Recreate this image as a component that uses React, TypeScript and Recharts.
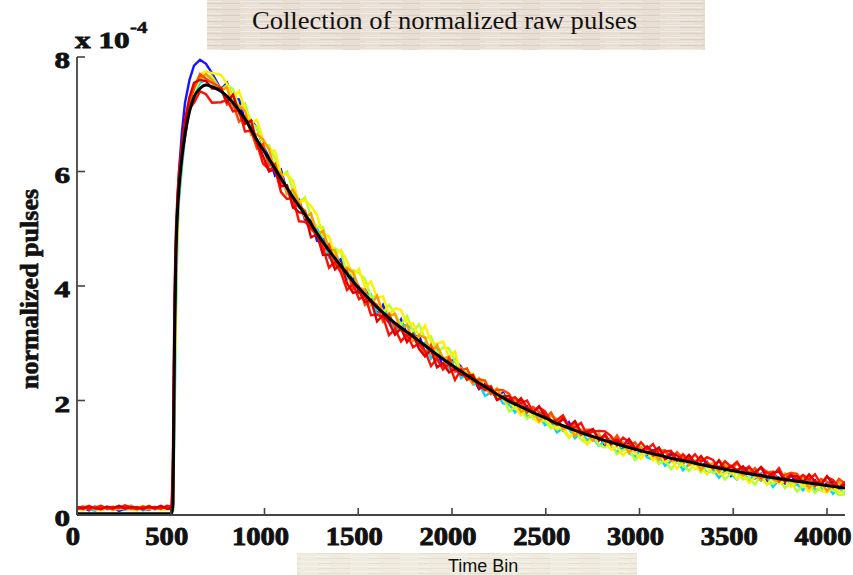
import { LineChart, Line, XAxis, YAxis } from "recharts";

// values in units of 1e-4 (axis reads "x 10^-4")
const traceBins = [
  0, 32, 64, 96, 128, 160, 192, 224, 256, 288, 320, 352, 384, 416, 448, 480, 496, 505,
  512, 520, 528, 536, 544, 560, 576, 600, 624, 656, 688, 720,
  768, 800, 832, 864, 896, 928, 960, 992,
  1024, 1056, 1088, 1120, 1152, 1184, 1216, 1248,
  1280, 1312, 1344, 1376, 1408, 1440, 1472, 1504,
  1536, 1568, 1600, 1632, 1664, 1696, 1728, 1760,
  1792, 1824, 1856, 1888, 1920, 1952, 1984, 2016,
  2048, 2080, 2112, 2144, 2176, 2208, 2240, 2272,
  2304, 2336, 2368, 2400, 2432, 2464, 2496, 2528,
  2560, 2592, 2624, 2656, 2688, 2720, 2752, 2784,
  2816, 2848, 2880, 2912, 2944, 2976, 3008, 3040,
  3072, 3104, 3136, 3168, 3200, 3232, 3264, 3296,
  3328, 3360, 3392, 3424, 3456, 3488, 3520, 3552,
  3584, 3616, 3648, 3680, 3712, 3744, 3776, 3808,
  3840, 3872, 3904, 3936, 3968, 4000, 4032, 4064,
  4096,
];

const bluePulse = [
  0.1, 0.13, 0.08, 0.15, 0.09, 0.12, 0.14, 0.07, 0.11, 0.16, 0.1, 0.12, 0.09, 0.14, 0.11, 0.13, 0.12, 0.11,
  0.4, 2.6, 4.4, 5.5, 6.0, 6.7, 7.2, 7.6, 7.85, 7.95, 7.88, 7.72,
  7.43, 7.55, 7.27, 7.26, 6.89, 6.9, 6.76, 6.45,
  6.25, 5.93, 6.03, 5.65, 5.54, 5.51, 5.16, 5.16,
  4.79, 4.82, 4.71, 4.38, 4.47, 4.18, 4.14, 3.89,
  3.94, 3.76, 3.51, 3.67, 3.4, 3.26, 3.42, 3.16,
  3.08, 3.15, 2.83, 2.91, 2.89, 2.57, 2.7, 2.7,
  2.59, 2.38, 2.4, 2.2, 2.29, 2.18, 2.04, 2.14,
  1.94, 2.03, 1.87, 1.9, 1.7, 1.78, 1.77, 1.62,
  1.62, 1.48, 1.62, 1.44, 1.43, 1.47, 1.31, 1.38,
  1.21, 1.3, 1.3, 1.14, 1.26, 1.13, 1.16, 1.05,
  1.13, 1.05, 0.94, 1.08, 0.94, 0.89, 1.03, 0.88,
  0.85, 0.93, 0.75, 0.84, 0.86, 0.68, 0.79, 0.82,
  0.8, 0.64, 0.72, 0.57, 0.7, 0.65, 0.55, 0.7,
  0.54, 0.67, 0.54, 0.61, 0.44, 0.56, 0.57, 0.46,
  0.5,
];

const cyanPulse = [
  0.09, 0.13, 0.11, 0.07, 0.15, 0.1, 0.12, 0.16, 0.09, 0.11, 0.14, 0.08, 0.12, 0.1, 0.15, 0.11, 0.11, 0.1,
  0.1, 1.6, 3.6, 4.9, 5.5, 6.1, 6.6, 7.1, 7.35, 7.55, 7.6, 7.55,
  7.43, 7.19, 7.35, 7.01, 6.91, 6.85, 6.46, 6.47,
  6.09, 6.1, 5.97, 5.61, 5.67, 5.37, 5.31, 5.01,
  5.01, 4.79, 4.5, 4.62, 4.31, 4.12, 4.23, 3.93,
  3.81, 3.85, 3.5, 3.56, 3.53, 3.2, 3.32, 3.31,
  3.24, 2.95, 3.01, 2.73, 2.88, 2.74, 2.55, 2.72,
  2.39, 2.46, 2.28, 2.29, 2.08, 2.14, 2.11, 1.95,
  1.94, 1.79, 1.92, 1.73, 1.71, 1.74, 1.57, 1.63,
  1.44, 1.52, 1.51, 1.34, 1.45, 1.31, 1.34, 1.21,
  1.29, 1.21, 1.09, 1.23, 1.08, 1.02, 1.15, 1.01,
  0.97, 1.04, 0.86, 0.94, 0.96, 0.78, 0.89, 0.91,
  0.89, 0.73, 0.8, 0.65, 0.78, 0.72, 0.62, 0.76,
  0.6, 0.72, 0.6, 0.66, 0.49, 0.61, 0.62, 0.51,
  0.54, 0.43, 0.59, 0.44, 0.45, 0.52, 0.37, 0.47,
  0.38,
];

const limePulse = [
  0.12, 0.08, 0.13, 0.1, 0.11, 0.14, 0.09, 0.12, 0.15, 0.1, 0.08, 0.13, 0.11, 0.14, 0.09, 0.12, 0.1, 0.12,
  0.1, 2.0, 3.9, 5.0, 5.6, 6.2, 6.7, 7.15, 7.4, 7.6, 7.68, 7.66,
  7.42, 7.51, 7.44, 7.12, 7.19, 6.86, 6.76, 6.47,
  6.46, 6.22, 5.91, 6.0, 5.66, 5.46, 5.55, 5.2,
  5.03, 5.03, 4.64, 4.66, 4.59, 4.21, 4.28, 4.23,
  4.12, 3.8, 3.83, 3.53, 3.67, 3.52, 3.32, 3.48,
  3.2, 3.33, 3.08, 3.12, 2.82, 2.93, 2.91, 2.69,
  2.53, 2.36, 2.47, 2.26, 2.23, 2.24, 2.05, 2.1,
  1.81, 1.88, 1.86, 1.68, 1.78, 1.63, 1.65, 1.51,
  1.57, 1.48, 1.35, 1.48, 1.32, 1.25, 1.38, 1.22,
  1.18, 1.25, 1.06, 1.14, 1.15, 0.96, 1.06, 1.09,
  1.06, 0.89, 0.96, 0.8, 0.93, 0.87, 0.77, 0.9,
  0.74, 0.86, 0.73, 0.79, 0.62, 0.73, 0.74, 0.62,
  0.65, 0.53, 0.7, 0.54, 0.55, 0.62, 0.47, 0.57,
  0.41, 0.52, 0.53, 0.39, 0.52, 0.41, 0.45, 0.35,
  0.36,
];

const yellowPulse = [
  0.11, 0.14, 0.1, 0.12, 0.08, 0.12, 0.15, 0.1, 0.13, 0.09, 0.12, 0.16, 0.1, 0.13, 0.11, 0.09, 0.12, 0.13,
  0.1, 2.2, 4.0, 5.1, 5.7, 6.3, 6.8, 7.25, 7.5, 7.7, 7.75, 7.72,
  7.69, 7.53, 7.28, 7.41, 7.08, 6.85, 6.9, 6.56,
  6.38, 6.36, 5.95, 5.94, 5.84, 5.45, 5.5, 5.4,
  5.24, 4.88, 4.87, 4.53, 4.63, 4.43, 4.18, 4.3,
  3.98, 4.08, 3.8, 3.82, 3.51, 3.61, 3.58, 3.35,
  3.35, 3.12, 3.31, 3.02, 2.99, 3.03, 2.76, 2.86,
  2.45, 2.5, 2.46, 2.26, 2.35, 2.18, 2.18, 2.03,
  1.98, 1.88, 1.74, 1.86, 1.69, 1.61, 1.73, 1.56,
  1.5, 1.56, 1.36, 1.43, 1.43, 1.23, 1.33, 1.34,
  1.31, 1.14, 1.2, 1.04, 1.16, 1.09, 0.98, 1.12,
  0.95, 1.06, 0.93, 0.98, 0.81, 0.92, 0.93, 0.8,
  0.83, 0.71, 0.87, 0.71, 0.72, 0.78, 0.63, 0.72,
  0.56, 0.66, 0.68, 0.53, 0.66, 0.55, 0.59, 0.49,
  0.58, 0.52, 0.41, 0.57, 0.43, 0.39, 0.53, 0.4,
  0.41,
];

const orangePulse = [
  0.13, 0.1, 0.12, 0.15, 0.11, 0.13, 0.09, 0.14, 0.12, 0.16, 0.11, 0.13, 0.1, 0.14, 0.12, 0.15, 0.12, 0.14,
  0.2, 2.6, 4.3, 5.2, 5.75, 6.35, 6.8, 7.25, 7.5, 7.62, 7.7, 7.6,
  7.41, 7.47, 7.12, 7.15, 7.06, 6.64, 6.65, 6.56,
  6.39, 6.01, 5.98, 5.61, 5.68, 5.47, 5.2, 5.27,
  4.9, 4.96, 4.64, 4.62, 4.27, 4.32, 4.24, 3.97,
  3.93, 3.67, 3.83, 3.52, 3.48, 3.51, 3.23, 3.32,
  3.04, 3.14, 3.1, 2.83, 2.97, 2.74, 2.76, 2.56,
  2.57, 2.45, 2.29, 2.39, 2.21, 2.11, 2.21, 2.03,
  1.96, 2.01, 1.8, 1.86, 1.85, 1.64, 1.73, 1.73,
  1.68, 1.5, 1.55, 1.38, 1.49, 1.41, 1.3, 1.42,
  1.25, 1.36, 1.22, 1.27, 1.09, 1.19, 1.19, 1.07,
  1.09, 0.96, 1.12, 0.95, 0.96, 1.02, 0.87, 0.95,
  0.79, 0.89, 0.9, 0.75, 0.88, 0.76, 0.8, 0.69,
  0.78, 0.71, 0.61, 0.76, 0.62, 0.58, 0.72, 0.59,
  0.56, 0.65, 0.47, 0.57, 0.59, 0.42, 0.53, 0.57,
  0.47,
];

const redOrangePulse = [
  0.1, 0.13, 0.16, 0.11, 0.14, 0.12, 0.1, 0.15, 0.13, 0.11, 0.14, 0.12, 0.16, 0.1, 0.13, 0.12, 0.13, 0.11,
  0.5, 3.2, 4.7, 5.4, 5.85, 6.4, 6.85, 7.2, 7.45, 7.7, 7.62, 7.55,
  7.47, 7.17, 7.2, 6.87, 6.95, 6.71, 6.4, 6.48,
  6.1, 6.14, 5.8, 5.75, 5.37, 5.41, 5.31, 4.99,
  4.9, 4.6, 4.72, 4.37, 4.29, 4.27, 3.94, 3.99,
  3.67, 3.74, 3.67, 3.38, 3.51, 3.27, 3.28, 3.07,
  3.16, 3.01, 2.79, 2.97, 2.71, 2.58, 2.75, 2.5,
  2.53, 2.56, 2.33, 2.37, 2.35, 2.12, 2.19, 2.18,
  2.12, 1.93, 1.97, 1.79, 1.89, 1.8, 1.68, 1.79,
  1.6, 1.7, 1.55, 1.59, 1.4, 1.49, 1.49, 1.35,
  1.37, 1.24, 1.39, 1.22, 1.22, 1.27, 1.11, 1.2,
  1.03, 1.12, 1.13, 0.97, 1.1, 0.98, 1.02, 0.9,
  0.99, 0.92, 0.81, 0.96, 0.82, 0.77, 0.91, 0.77,
  0.74, 0.82, 0.65, 0.74, 0.76, 0.59, 0.7, 0.74,
  0.72, 0.57, 0.64, 0.5, 0.63, 0.58, 0.48, 0.63,
  0.55,
];

const redPulse = [
  0.12, 0.15, 0.1, 0.13, 0.16, 0.11, 0.14, 0.12, 0.17, 0.13, 0.1, 0.15, 0.12, 0.14, 0.11, 0.16, 0.15, 0.13,
  0.8, 3.6, 4.9, 5.5, 5.8, 6.3, 6.6, 7.1, 7.2, 7.4, 7.35, 7.2,
  7.21, 7.25, 7.05, 7.07, 6.7, 6.71, 6.48, 6.14,
  6.04, 6.05, 5.64, 5.52, 5.54, 5.13, 5.12, 5.02,
  4.89, 4.67, 4.32, 4.42, 4.23, 3.93, 4.04, 3.77,
  3.84, 3.49, 3.5, 3.46, 3.14, 3.25, 3.03, 3.16,
  2.93, 3.0, 2.87, 2.6, 2.74, 2.54, 2.64, 2.36,
  2.54, 2.36, 2.42, 2.27, 2.18, 2.25, 2.01, 2.05,
  2.02, 2.06, 1.95, 2.0, 1.8, 1.88, 1.81, 1.64,
  1.66, 1.74, 1.54, 1.53, 1.61, 1.4, 1.46, 1.47,
  1.46, 1.38, 1.22, 1.35, 1.28, 1.14, 1.27, 1.15,
  1.24, 1.05, 1.11, 1.12, 0.95, 1.06, 0.95, 1.06,
  0.93, 1.01, 0.96, 0.81, 0.94, 0.84, 0.93, 0.77,
  0.85, 0.72, 0.84, 0.74, 0.69, 0.82, 0.62, 0.71,
  0.62, 0.7, 0.62, 0.71, 0.54, 0.66, 0.61, 0.48,
  0.58,
];

const darkRedPulse = [
  0.14, 0.11, 0.15, 0.12, 0.1, 0.15, 0.12, 0.16, 0.11, 0.14, 0.13, 0.1, 0.15, 0.12, 0.16, 0.11, 0.11, 0.14,
  1.2, 3.9, 5.0, 5.6, 6.0, 6.5, 6.9, 7.3, 7.55, 7.6, 7.58, 7.45,
  7.45, 7.21, 7.34, 7.04, 6.83, 6.89, 6.51, 6.27,
  6.0, 6.04, 5.74, 5.76, 5.38, 5.29, 5.26, 4.85,
  4.9, 4.54, 4.55, 4.29, 4.39, 4.05, 3.88, 3.91,
  3.72, 3.76, 3.38, 3.49, 3.36, 3.15, 3.26, 3.02,
  3.16, 2.9, 2.77, 2.89, 2.58, 2.65, 2.49, 2.56,
  2.45, 2.43, 2.45, 2.21, 2.27, 2.23, 2.01, 2.07,
  2.08, 1.93, 2.04, 1.88, 1.79, 1.9, 1.73, 1.63,
  1.58, 1.68, 1.55, 1.64, 1.45, 1.45, 1.5, 1.3,
  1.41, 1.24, 1.32, 1.21, 1.33, 1.17, 1.11, 1.19,
  1.11, 1.18, 0.98, 1.09, 1.04, 0.94, 1.05, 0.91,
  1.03, 0.89, 0.84, 0.95, 0.78, 0.86, 0.78, 0.85,
  0.72, 0.75, 0.83, 0.64, 0.74, 0.76, 0.58, 0.69,
  0.68, 0.57, 0.71, 0.59, 0.53, 0.68, 0.53, 0.47,
  0.54,
];

// the black average pulse
const meanBins = [
  0, 64, 128, 192, 256, 320, 384, 448, 496, 505,
  512, 520, 528, 536, 544, 560, 576, 600, 624, 656, 688, 720,
  768, 832, 896, 960, 1024, 1088, 1152, 1216, 1280, 1344, 1408, 1472, 1536, 1600, 1664, 1728,
  1792, 1856, 1920, 1984, 2048, 2112, 2176, 2240, 2304, 2368, 2432, 2496, 2560, 2624, 2688,
  2752, 2816, 2880, 2944, 3008, 3072, 3136, 3200, 3264, 3328, 3392, 3456, 3520, 3584, 3648,
  3712, 3776, 3840, 3904, 3968, 4032, 4096,
];

const meanPulse = [
  0.02, 0.02, 0.02, 0.02, 0.02, 0.02, 0.02, 0.02, 0.02, 0.02,
  0.2, 3.0, 4.6, 5.3, 5.7, 6.25, 6.65, 7.05, 7.3, 7.45, 7.51, 7.48,
  7.4, 7.2, 6.92, 6.55, 6.22, 5.88, 5.55, 5.25, 4.92, 4.62, 4.35, 4.08, 3.85, 3.63, 3.44, 3.27,
  3.12, 2.96, 2.8, 2.65, 2.51, 2.37, 2.24, 2.11, 1.99, 1.89, 1.79, 1.7, 1.6, 1.52, 1.44,
  1.37, 1.3, 1.24, 1.18, 1.12, 1.07, 1.02, 0.97, 0.93, 0.88, 0.84, 0.8, 0.76, 0.72, 0.69,
  0.65, 0.62, 0.59, 0.56, 0.53, 0.5, 0.47,
];

const xTicks = [0, 500, 1000, 1500, 2000, 2500, 3000, 3500, 4000];
const yTicks = [0, 2, 4, 6, 8];

const traces = [
  { key: "blue", values: bluePulse, color: "#1515ff" },
  { key: "cyan", values: cyanPulse, color: "#00d8ff" },
  { key: "lime", values: limePulse, color: "#b4ff30" },
  { key: "yellow", values: yellowPulse, color: "#fff000" },
  { key: "orange", values: orangePulse, color: "#ff9a00" },
  { key: "redOrange", values: redOrangePulse, color: "#ff4800" },
  { key: "red", values: redPulse, color: "#ff1000" },
  { key: "darkRed", values: darkRedPulse, color: "#e00000" },
];

const rows = traceBins.map((t, i) => {
  const row: Record<string, number> = { t };
  traces.forEach((tr) => {
    row[tr.key] = tr.values[i];
  });
  return row;
});

const meanRows = meanBins.map((t, i) => ({ t, mean: meanPulse[i] }));

const SERIF = "'Liberation Serif', 'Times New Roman', serif";
const AXIS = "#444";
const INK = "#111";

function XTick({ x, y, payload }: { x: number; y: number; payload: { value: number } }) {
  return (
    <g>
      <line x1={x} x2={x} y1={y} y2={y - 7} stroke={AXIS} strokeWidth={1.6} />
      <g transform={`translate(${x - 4},${y + 30}) scale(1.1,1)`}>
        <text
          textAnchor="middle"
          fontFamily={SERIF}
          fontWeight="bold"
          fontSize={26}
          fill={INK}
          stroke={INK}
          strokeWidth={0.9}
        >
          {payload.value}
        </text>
      </g>
    </g>
  );
}

function YTick({ x, y, payload }: { x: number; y: number; payload: { value: number } }) {
  return (
    <g>
      <line x1={x} x2={x + 8} y1={y} y2={y} stroke={AXIS} strokeWidth={1.6} />
      <g transform={`translate(${x - 7},${y + 11}) scale(1.3,1)`}>
        <text
          textAnchor="end"
          fontFamily={SERIF}
          fontWeight="bold"
          fontSize={24}
          fill={INK}
          stroke={INK}
          strokeWidth={0.8}
        >
          {payload.value}
        </text>
      </g>
    </g>
  );
}

export default function App() {
  return (
    <div style={{ position: "absolute", left: 0, top: 0, width: 853, height: 575, background: "#fff" }}>
      <LineChart width={853} height={575} data={rows} margin={{ top: 57, right: 8, bottom: 0, left: 0 }}>
        <XAxis
          dataKey="t"
          type="number"
          domain={[0, 4096]}
          allowDataOverflow
          ticks={xTicks}
          interval={0}
          height={60}
          tickSize={0}
          tickMargin={0}
          tickLine={false}
          axisLine={{ stroke: AXIS, strokeWidth: 1.8 }}
          tick={(p: any) => <XTick {...p} />}
        />
        <YAxis
          type="number"
          domain={[0, 8]}
          allowDataOverflow
          ticks={yTicks}
          interval={0}
          width={77}
          tickSize={0}
          tickMargin={0}
          tickLine={false}
          axisLine={{ stroke: AXIS, strokeWidth: 1.8 }}
          tick={(p: any) => <YTick {...p} />}
        />
        {traces.map((tr) => (
          <Line
            key={tr.key}
            dataKey={tr.key}
            type="linear"
            stroke={tr.color}
            strokeWidth={2.4}
            dot={false}
            isAnimationActive={false}
          />
        ))}
        <Line
          data={meanRows}
          dataKey="mean"
          type="monotone"
          stroke="#000"
          strokeWidth={3}
          dot={false}
          isAnimationActive={false}
        />
      </LineChart>
      <svg width={853} height={575} style={{ position: "absolute", left: 0, top: 0, pointerEvents: "none" }}>
        <defs>
          <pattern id="paperTop" width="60" height="6" patternUnits="userSpaceOnUse">
            <rect width="60" height="6" fill="#e8ded4" />
            <rect x="0" y="1" width="42" height="1" fill="#f2ebe4" />
            <rect x="20" y="3" width="40" height="1" fill="#dacfc3" />
            <rect x="5" y="5" width="30" height="1" fill="#efe7de" />
          </pattern>
          <pattern id="paperBottom" width="50" height="5" patternUnits="userSpaceOnUse">
            <rect width="50" height="5" fill="#efebdf" />
            <rect x="0" y="1" width="30" height="1" fill="#f6f3ea" />
            <rect x="18" y="3" width="32" height="1" fill="#e6e0d1" />
          </pattern>
        </defs>
        <rect x={207} y={0} width={498} height={50} fill="url(#paperTop)" />
        <text
          x={252}
          y={29}
          fontFamily={SERIF}
          fontSize={25}
          fill={INK}
          textLength={385}
          lengthAdjust="spacingAndGlyphs"
        >
          Collection of normalized raw pulses
        </text>
        <rect x={297} y={553} width={340} height={22} fill="url(#paperBottom)" />
        <text x={448} y={572} fontFamily="'Liberation Sans', Arial, sans-serif" fontSize={18} fill={INK}>
          Time Bin
        </text>
        <text
          transform="translate(38,289) rotate(-90)"
          textAnchor="middle"
          fontFamily={SERIF}
          fontWeight="bold"
          fontSize={26}
          fill={INK}
          stroke={INK}
          strokeWidth={0.7}
        >
          normalized pulses
        </text>
        <g transform="translate(75,48) scale(1.3,1)">
          <text fontFamily={SERIF} fontWeight="bold" fontSize={24} fill={INK} stroke={INK} strokeWidth={0.8}>
            x 10
          </text>
        </g>
        <g transform="translate(130,33) scale(1.3,1)">
          <text fontFamily={SERIF} fontWeight="bold" fontSize={16} fill={INK} stroke={INK} strokeWidth={0.5}>
            -4
          </text>
        </g>
      </svg>
    </div>
  );
}
